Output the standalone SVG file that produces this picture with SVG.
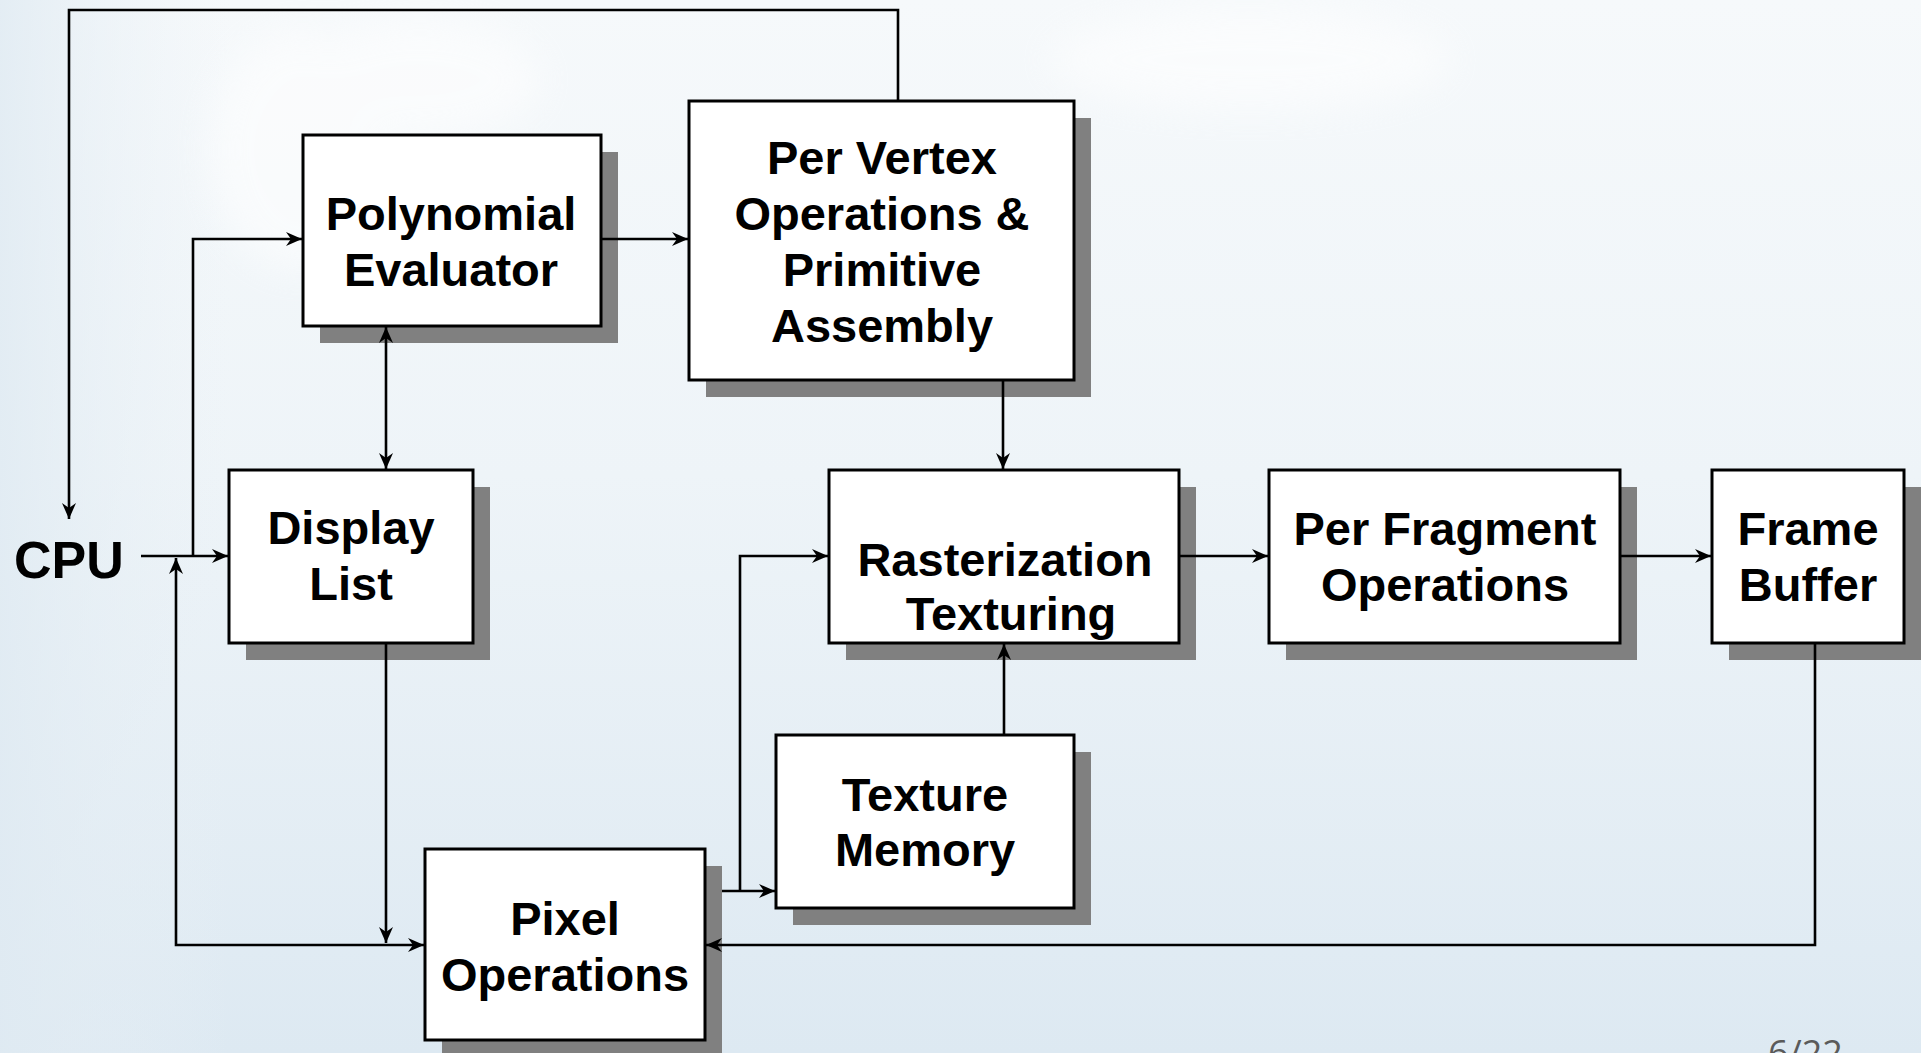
<svg xmlns="http://www.w3.org/2000/svg" width="1921" height="1053" viewBox="0 0 1921 1053">
  <defs>
    <linearGradient id="bg" x1="0" y1="0" x2="0" y2="1">
      <stop offset="0" stop-color="#f6f9fb"/>
      <stop offset="0.45" stop-color="#eef4f8"/>
      <stop offset="1" stop-color="#dde9f2"/>
    </linearGradient>
    <linearGradient id="edge" x1="0" y1="0" x2="1" y2="0">
      <stop offset="0" stop-color="#dfeaf2" stop-opacity="0.8"/>
      <stop offset="0.12" stop-color="#eaf1f6" stop-opacity="0"/>
    </linearGradient>
    <filter id="haze" x="-50%" y="-50%" width="200%" height="200%">
      <feGaussianBlur stdDeviation="18"/>
    </filter>
    <marker id="arrow" viewBox="-17 -8 18 16" markerWidth="18" markerHeight="16" refX="0" refY="0" orient="auto-start-reverse" markerUnits="userSpaceOnUse">
      <path d="M0,0 L-16,-7 L-11,0 L-16,7 Z" fill="#000"/>
    </marker>
    <style>
      .shadow { fill: #808080; }
      .box { fill: #ffffff; stroke: #000000; stroke-width: 3; }
      .label { font-family: "Liberation Sans", Arial, sans-serif; font-weight: bold; font-size: 47px; fill: #000000; text-anchor: middle; }
      .cpu { font-family: "Liberation Sans", Arial, sans-serif; font-weight: bold; font-size: 52px; fill: #000000; }
      .wire { fill: none; stroke: #000000; stroke-width: 2.6; }
      .page { font-family: "Open Sans", "DejaVu Sans", sans-serif; font-size: 36px; fill: #5a5a5a; }
    </style>
  </defs>

  <!-- backdrop -->
  <rect x="0" y="0" width="1921" height="1053" fill="url(#bg)"/>
  <rect x="0" y="0" width="1921" height="1053" fill="url(#edge)"/>
  <g filter="url(#haze)" fill="#ffffff" opacity="0.55">
    <ellipse cx="300" cy="150" rx="90" ry="120"/>
    <ellipse cx="420" cy="80" rx="120" ry="60"/>
    <ellipse cx="1250" cy="60" rx="200" ry="50"/>
  </g>

  <!-- nodes -->
  <g id="polynomial-evaluator">
    <rect class="shadow" x="320" y="152" width="298" height="191"/>
    <rect class="box" x="303" y="135" width="298" height="191"/>
    <text class="label" x="451" y="230">Polynomial</text>
    <text class="label" x="451" y="286">Evaluator</text>
  </g>

  <g id="per-vertex">
    <rect class="shadow" x="706" y="118" width="385" height="279"/>
    <rect class="box" x="689" y="101" width="385" height="279"/>
    <text class="label" x="882" y="174">Per Vertex</text>
    <text class="label" x="882" y="230">Operations &amp;</text>
    <text class="label" x="882" y="286">Primitive</text>
    <text class="label" x="882" y="342">Assembly</text>
  </g>

  <g id="display-list">
    <rect class="shadow" x="246" y="487" width="244" height="173"/>
    <rect class="box" x="229" y="470" width="244" height="173"/>
    <text class="label" x="351" y="544">Display</text>
    <text class="label" x="351" y="600">List</text>
  </g>

  <g id="rasterization">
    <rect class="shadow" x="846" y="487" width="350" height="173"/>
    <rect class="box" x="829" y="470" width="350" height="173"/>
    <text class="label" x="1005" y="576">Rasterization</text>
    <text class="label" x="1011" y="630">Texturing</text>
  </g>

  <g id="per-fragment">
    <rect class="shadow" x="1286" y="487" width="351" height="173"/>
    <rect class="box" x="1269" y="470" width="351" height="173"/>
    <text class="label" x="1445" y="545">Per Fragment</text>
    <text class="label" x="1445" y="601">Operations</text>
  </g>

  <g id="frame-buffer">
    <rect class="shadow" x="1729" y="487" width="193" height="173"/>
    <rect class="box" x="1712" y="470" width="192" height="173"/>
    <text class="label" x="1808" y="545">Frame</text>
    <text class="label" x="1808" y="601">Buffer</text>
  </g>

  <g id="texture-memory">
    <rect class="shadow" x="793" y="752" width="298" height="173"/>
    <rect class="box" x="776" y="735" width="298" height="173"/>
    <text class="label" x="925" y="811">Texture</text>
    <text class="label" x="925" y="866">Memory</text>
  </g>

  <g id="pixel-operations">
    <rect class="shadow" x="442" y="866" width="280" height="191"/>
    <rect class="box" x="425" y="849" width="280" height="191"/>
    <text class="label" x="565" y="935">Pixel</text>
    <text class="label" x="565" y="991">Operations</text>
  </g>

  <g id="cpu">
    <text class="cpu" x="14" y="578">CPU</text>
  </g>

  <!-- connectors -->
  <g id="connectors">
    <!-- per-vertex feedback to CPU -->
    <path class="wire" d="M898,101 V10 H69 V519" marker-end="url(#arrow)"/>
    <!-- CPU to display list -->
    <path class="wire" d="M141,556 H228" marker-end="url(#arrow)"/>
    <!-- CPU to polynomial evaluator -->
    <path class="wire" d="M193,556 V239 H302" marker-end="url(#arrow)"/>
    <!-- polynomial evaluator to per-vertex -->
    <path class="wire" d="M601,239 H688" marker-end="url(#arrow)"/>
    <!-- polynomial evaluator <-> display list -->
    <path class="wire" d="M386,327 V469" marker-start="url(#arrow)" marker-end="url(#arrow)"/>
    <!-- display list to pixel operations -->
    <path class="wire" d="M386,643 V943" marker-end="url(#arrow)"/>
    <!-- CPU <-> pixel operations -->
    <path class="wire" d="M176,558 V945 H424" marker-start="url(#arrow)" marker-end="url(#arrow)"/>
    <!-- per-vertex to rasterization -->
    <path class="wire" d="M1003,380 V469" marker-end="url(#arrow)"/>
    <!-- rasterization to per-fragment -->
    <path class="wire" d="M1179,556 H1268" marker-end="url(#arrow)"/>
    <!-- per-fragment to frame buffer -->
    <path class="wire" d="M1620,556 H1711" marker-end="url(#arrow)"/>
    <!-- frame buffer back to pixel operations -->
    <path class="wire" d="M1815,643 V945 H706" marker-end="url(#arrow)"/>
    <!-- pixel operations to texture memory -->
    <path class="wire" d="M722,891 H775" marker-end="url(#arrow)"/>
    <!-- pixel operations to rasterization -->
    <path class="wire" d="M740,891 V556 H828" marker-end="url(#arrow)"/>
    <!-- texture memory to rasterization -->
    <path class="wire" d="M1004,735 V644" marker-end="url(#arrow)"/>
  </g>

  <!-- slide number -->
  <text class="page" x="1768" y="1066">6/22</text>
</svg>
